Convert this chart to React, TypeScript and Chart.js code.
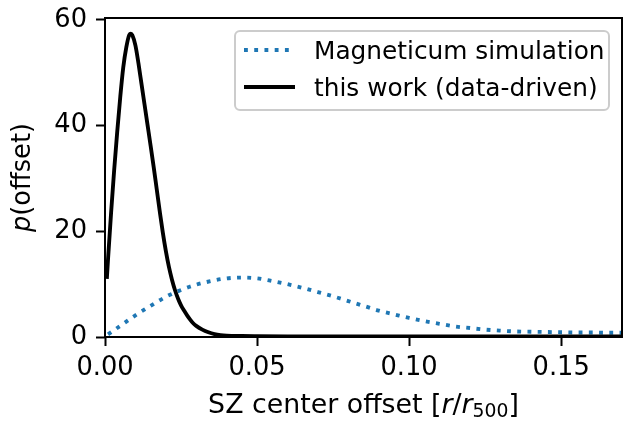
import React, { useEffect, useRef } from "react";
import { Chart, registerables } from "chart.js";

Chart.register(...registerables);

// Magneticum simulation (dotted blue)
const SIM_X = [0.001, 0.005, 0.01, 0.015, 0.02, 0.025, 0.03, 0.035, 0.04, 0.045, 0.05, 0.055, 0.06, 0.065, 0.07, 0.075, 0.08, 0.085, 0.09, 0.095, 0.1, 0.105, 0.11, 0.115, 0.12, 0.125, 0.13, 0.135, 0.14, 0.145, 0.15, 0.155, 0.16, 0.165, 0.17];
const SIM_Y = [0.5, 2.1, 4.1, 5.9, 7.6, 8.9, 9.9, 10.6, 11.1, 11.25, 11.1, 10.6, 10.0, 9.3, 8.5, 7.7, 6.8, 5.9, 5.0, 4.3, 3.6, 3.0, 2.5, 2.0, 1.7, 1.4, 1.2, 1.05, 1.0, 0.95, 0.9, 0.85, 0.85, 0.8, 0.8];

// this work (data-driven) (solid black)
const WORK_X = [0.0006, 0.001, 0.002, 0.003, 0.004, 0.005, 0.006, 0.007, 0.008, 0.0085, 0.009, 0.01, 0.011, 0.012, 0.013, 0.014, 0.015, 0.016, 0.017, 0.018, 0.019, 0.02, 0.021, 0.022, 0.023, 0.024, 0.025, 0.026, 0.027, 0.028, 0.029, 0.03, 0.032, 0.034, 0.036, 0.038, 0.04, 0.045, 0.05, 0.06, 0.08, 0.1, 0.13, 0.17];
const WORK_Y = [11.0, 14.8, 23.5, 31.5, 38.7, 45.3, 51.0, 54.8, 57.2, 57.4, 57.1, 55.2, 51.8, 47.9, 44.0, 40.1, 36.2, 32.2, 28.0, 23.8, 19.8, 16.3, 13.3, 10.9, 8.9, 7.3, 6.0, 5.0, 4.1, 3.3, 2.6, 2.1, 1.4, 0.9, 0.55, 0.35, 0.25, 0.18, 0.15, 0.12, 0.1, 0.1, 0.1, 0.1];

const X_TICKS = [0, 0.05, 0.1, 0.15];
const Y_TICKS = [0, 20, 40, 60];
const LEGEND_LABELS = ["Magneticum simulation", "this work (data-driven)"];
const X_TITLE = "SZ center offset";
const Y_TITLE = "(offset)";

const FONT = "'DejaVu Sans'";
const FS = 25.7;
const LEGEND_FS = 24.8;
const XT_FS = 26.8;
const BLUE = "#1f77b4";
const LW = 3.86;

const decorPlugin = {
  id: "decor",
  afterDraw(chart: any) {
    const ctx = chart.ctx;
    const a = chart.chartArea;
    ctx.save();
    // frame
    ctx.strokeStyle = "#000";
    ctx.lineWidth = 2;
    ctx.strokeRect(a.left, a.top, a.right - a.left, a.bottom - a.top);

    // legend
    const bx = 235, by = 31, bw = 374, bh = 79, r = 5;
    ctx.beginPath();
    ctx.moveTo(bx + r, by);
    ctx.arcTo(bx + bw, by, bx + bw, by + bh, r);
    ctx.arcTo(bx + bw, by + bh, bx, by + bh, r);
    ctx.arcTo(bx, by + bh, bx, by, r);
    ctx.arcTo(bx, by, bx + bw, by, r);
    ctx.closePath();
    ctx.fillStyle = "rgba(255,255,255,0.8)";
    ctx.fill();
    ctx.strokeStyle = "#cccccc";
    ctx.lineWidth = 2;
    ctx.stroke();

    const rows = [50, 87];
    chart.data.datasets.forEach((ds: any, i: number) => {
      ctx.beginPath();
      ctx.strokeStyle = ds.borderColor;
      ctx.lineWidth = ds.borderWidth;
      ctx.lineCap = "butt";
      ctx.setLineDash(ds.borderDash || []);
      ctx.moveTo(244, rows[i]);
      ctx.lineTo(295, rows[i]);
      ctx.stroke();
      ctx.setLineDash([]);
      ctx.fillStyle = "#000";
      ctx.font = `${LEGEND_FS}px ${FONT}`;
      ctx.textBaseline = "alphabetic";
      ctx.textAlign = "left";
      ctx.fillText(LEGEND_LABELS[i], 314, rows[i] + 9);
    });

    // x title with math parts
    const normal = `${XT_FS}px ${FONT}`;
    const ital = `oblique ${XT_FS}px ${FONT}`;
    const small = `${(XT_FS * 0.7).toFixed(1)}px ${FONT}`;
    const parts: [string, string, number][] = [
      [X_TITLE + " [", normal, 0],
      ["r", ital, 0],
      ["/", normal, 0],
      ["r", ital, 0],
      ["500", small, 4],
      ["]", normal, 0],
    ];
    let total = 0;
    parts.forEach(([t, f]) => {
      ctx.font = f;
      total += ctx.measureText(t).width;
    });
    let x = (a.left + a.right) / 2 - total / 2;
    const baseY = 413;
    ctx.fillStyle = "#000";
    ctx.textBaseline = "alphabetic";
    ctx.textAlign = "left";
    parts.forEach(([t, f, dy]) => {
      ctx.font = f;
      ctx.fillText(t, x, baseY + dy);
      x += ctx.measureText(t).width;
    });

    // y title
    const yNormal = `${FS}px ${FONT}`;
    const yItal = `oblique ${FS}px ${FONT}`;
    ctx.save();
    ctx.translate(30, (a.top + a.bottom) / 2);
    ctx.rotate(-Math.PI / 2);
    ctx.font = yItal;
    const w1 = ctx.measureText("p").width;
    ctx.font = yNormal;
    const w2 = ctx.measureText(Y_TITLE).width;
    let yx = -(w1 + w2) / 2;
    ctx.font = yItal;
    ctx.fillText("p", yx, 0);
    yx += w1;
    ctx.font = yNormal;
    ctx.fillText(Y_TITLE, yx, 0);
    ctx.restore();

    ctx.restore();
  },
};

export default function App() {
  const ref = useRef<HTMLCanvasElement | null>(null);
  useEffect(() => {
    document.body.style.margin = "0";
    const canvas = ref.current!;
    const chart = new Chart(canvas, {
      type: "line",
      data: {
        datasets: [
          {
            label: LEGEND_LABELS[0],
            data: SIM_X.map((x, i) => ({ x, y: SIM_Y[i] })),
            borderColor: BLUE,
            borderWidth: LW,
            borderDash: [3.86, 6.37],
            borderCapStyle: "butt",
            pointRadius: 0,
            cubicInterpolationMode: "monotone",
            fill: false,
            order: 2,
          },
          {
            label: LEGEND_LABELS[1],
            data: WORK_X.map((x, i) => ({ x, y: WORK_Y[i] })),
            borderColor: "#000000",
            borderWidth: LW,
            pointRadius: 0,
            cubicInterpolationMode: "monotone",
            fill: false,
            order: 1,
          },
        ],
      },
      options: {
        animation: false,
        responsive: false,
        devicePixelRatio: 1,
        layout: { padding: { left: 0, top: 18, right: 2, bottom: 0 } },
        plugins: { legend: { display: false }, tooltip: { enabled: false } },
        scales: {
          x: {
            type: "linear",
            min: 0,
            max: 0.17,
            afterBuildTicks: (s: any) => {
              s.ticks = X_TICKS.map((v) => ({ value: v }));
            },
            afterFit: (s: any) => {
              s.height = 85;
              s.paddingLeft = 0;
              s.paddingRight = 0;
            },
            ticks: {
              color: "#000",
              font: { family: FONT, size: FS },
              padding: 7,
              maxRotation: 0,
              callback: (v: any) => Number(v).toFixed(2),
            },
            grid: {
              drawOnChartArea: false,
              drawTicks: true,
              tickLength: 9,
              tickWidth: 2,
              tickColor: "#000",
            },
            border: { display: false },
          },
          y: {
            type: "linear",
            min: 0,
            max: 60.37,
            afterBuildTicks: (s: any) => {
              s.ticks = Y_TICKS.map((v) => ({ value: v }));
            },
            afterFit: (s: any) => {
              s.width = 105;
              s.paddingTop = 0;
              s.paddingBottom = 0;
            },
            ticks: {
              color: "#000",
              font: { family: FONT, size: FS },
              padding: 9,
              callback: (v: any) => String(v),
            },
            grid: {
              drawOnChartArea: false,
              drawTicks: true,
              tickLength: 9,
              tickWidth: 2,
              tickColor: "#000",
            },
            border: { display: false },
          },
        },
      },
      plugins: [decorPlugin],
    } as any);
    return () => chart.destroy();
  }, []);
  return (
    <div style={{ position: "absolute", left: 0, top: 0, width: 624, height: 422, background: "#fff" }}>
      <canvas ref={ref} width={624} height={422} style={{ width: 624, height: 422, display: "block" }} />
    </div>
  );
}
